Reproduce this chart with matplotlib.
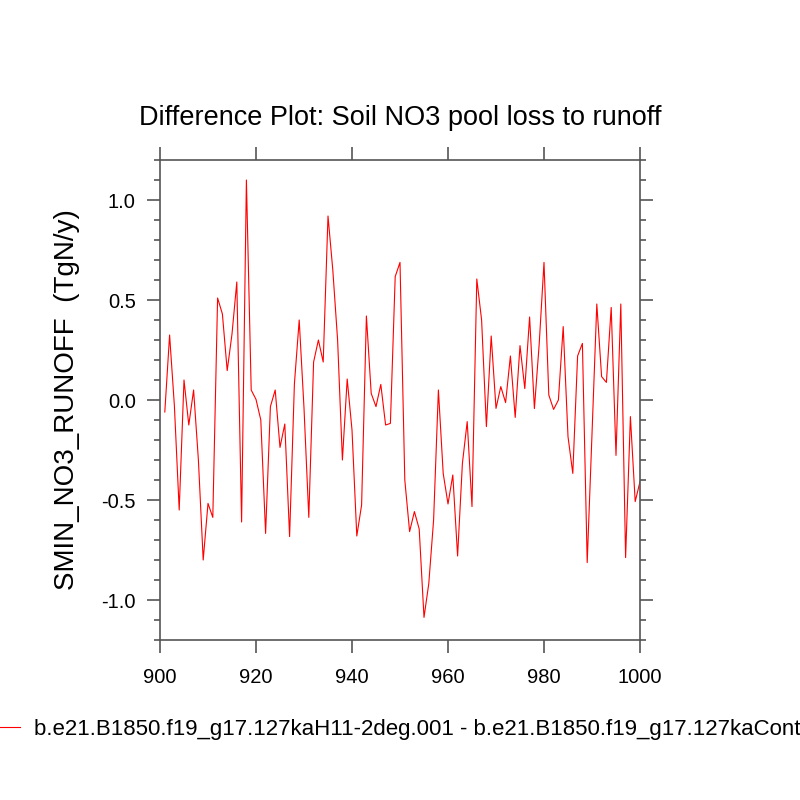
import numpy as np
import matplotlib
matplotlib.use("Agg")
import matplotlib.pyplot as plt
from matplotlib.ticker import MultipleLocator

plt.rcParams['font.family'] = ['Liberation Sans', 'DejaVu Sans']

# yearly difference values, years 901-1000
years = np.arange(901, 1001)
diff = [
    -0.06, 0.325, -0.03, -0.55, 0.10, -0.125, 0.05, -0.30, -0.80, -0.517,
    -0.587, 0.51, 0.43, 0.147, 0.33, 0.59, -0.61, 1.10, 0.05, 0.003,
    -0.10, -0.667, -0.033, 0.05, -0.237, -0.12, -0.683, 0.08, 0.40, -0.04,
    -0.587, 0.19, 0.30, 0.19, 0.92, 0.65, 0.30, -0.30, 0.105, -0.15,
    -0.68, -0.525, 0.42, 0.033, -0.033, 0.078, -0.125, -0.117, 0.617, 0.688,
    -0.40, -0.658, -0.558, -0.645, -1.087, -0.917, -0.60, 0.05, -0.367, -0.52,
    -0.375, -0.78, -0.317, -0.108, -0.533, 0.605, 0.40, -0.133, 0.32, -0.042,
    0.067, -0.013, 0.22, -0.087, 0.272, 0.057, 0.415, -0.043, 0.28, 0.688,
    0.025, -0.047, 0.0, 0.367, -0.183, -0.367, 0.22, 0.283, -0.813, -0.17,
    0.48, 0.117, 0.088, 0.463, -0.277, 0.48, -0.788, -0.083, -0.508, -0.408,
]

title = "Difference Plot: Soil NO3 pool loss to runoff"
ylabel = "SMIN_NO3_RUNOFF  (TgN/y)"
legend_label = ("b.e21.B1850.f19_g17.127kaH11-2deg.001 - "
                "b.e21.B1850.f19_g17.127kaControl.001")

axis_col = "#555555"

fig = plt.figure(figsize=(8, 8), dpi=100)
ax = fig.add_axes([0.2, 0.2, 0.6, 0.6])

line, = ax.plot(years, diff, color="red", linewidth=0.8)

ax.set_xlim(900, 1000)
ax.set_ylim(-1.2, 1.2)
ax.xaxis.set_major_locator(MultipleLocator(20))
ax.yaxis.set_minor_locator(MultipleLocator(0.1))
ax.set_yticks([-1.0, -0.5, 0.0, 0.5, 1.0])
ax.set_yticklabels(["-1.0", "-0.5", "0.0", "0.5", "1.0"])

for s in ax.spines.values():
    s.set_color(axis_col)
    s.set_linewidth(1.2)
ax.tick_params(which="both", direction="out", colors=axis_col,
               top=True, right=True, labelsize=14.5, labelcolor="black", width=1.2)
ax.tick_params(which="major", length=9.5, pad=8)
ax.tick_params(axis="x", which="major", pad=11)
ax.tick_params(which="minor", length=4.5)

ax.set_title(title, fontsize=19.5, pad=25)
ax.set_ylabel(ylabel, fontsize=20, labelpad=15)

fig.legend([line], [legend_label], loc="lower left",
           bbox_to_anchor=(-0.03, 0.05), frameon=False, fontsize=16,
           handlelength=1.1, handletextpad=0.6)

fig.savefig("out.png", dpi=100)
